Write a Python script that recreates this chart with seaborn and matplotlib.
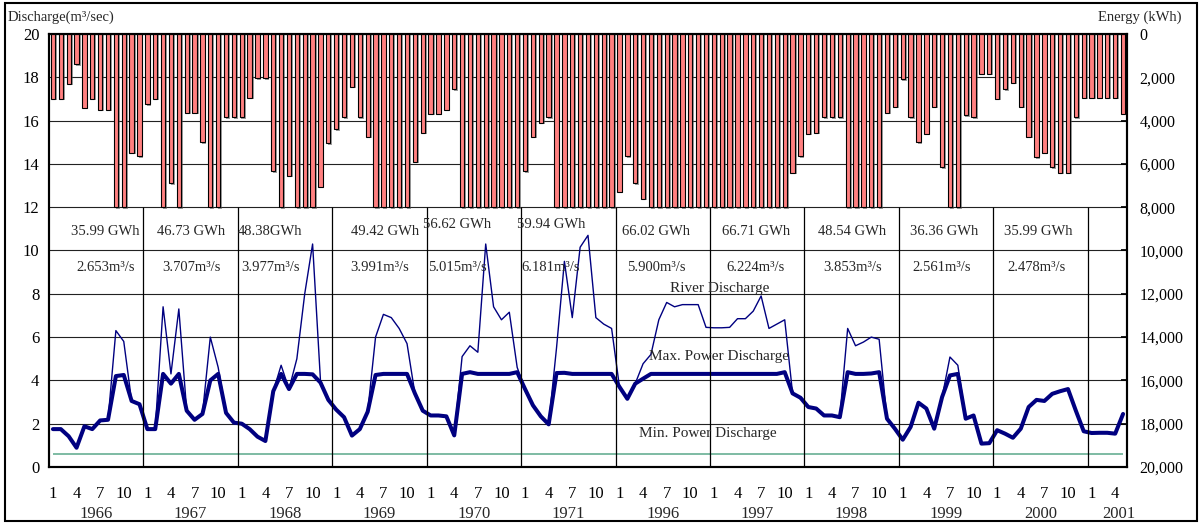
import numpy as np
import matplotlib
matplotlib.use("Agg")
import matplotlib.pyplot as plt
import matplotlib.patheffects as pe
import matplotlib.transforms as mtransforms
from matplotlib.patches import Rectangle
from matplotlib.ticker import FuncFormatter
import seaborn as sns

# years shown on the axis and how many months of each are plotted
years = ["1966", "1967", "1968", "1969", "1970", "1971",
         "1996", "1997", "1998", "1999", "2000", "2001"]
months_per_year = [12, 12, 12, 12, 12, 12, 12, 12, 12, 12, 12, 5]

# monthly energy (kWh), hanging bars on the right axis
energy = [
    3000, 3000, 2300, 1400, 3400, 3000, 3500, 3500, 8000, 8000, 5500, 5650,   # 1966
    3250, 3000, 8000, 6900, 8000, 3650, 3650, 5000, 8000, 8000, 3850, 3850,   # 1967
    3850, 2950, 2050, 2050, 6350, 8000, 6550, 8000, 8000, 8000, 7050, 5050,   # 1968
    4400, 3850, 2450, 3850, 4750, 8000, 8000, 8000, 8000, 8000, 5900, 4550,   # 1969
    3700, 3700, 3500, 2550, 8000, 8000, 8000, 8000, 8000, 8000, 8000, 8000,   # 1970
    6350, 4750, 4100, 3850, 8000, 8000, 8000, 8000, 8000, 8000, 8000, 8000,   # 1971
    7300, 5650, 6900, 7600, 8000, 8000, 8000, 8000, 8000, 8000, 8000, 8000,   # 1996
    8000, 8000, 8000, 8000, 8000, 8000, 8000, 8000, 8000, 8000, 6400, 5650,   # 1997
    4600, 4550, 3850, 3850, 3850, 8000, 8000, 8000, 8000, 8000, 3650, 3350,   # 1998
    2100, 3850, 5000, 4600, 3350, 6150, 8000, 8000, 3750, 3850, 1850, 1850,   # 1999
    3000, 2550, 2250, 3350, 4750, 5700, 5500, 6150, 6400, 6400, 3850, 2950,   # 2000
    2950, 2950, 2950, 2950, 3700,                                             # 2001
]

# river discharge (m3/s)
river = [
    1.75, 1.75, 1.42, 0.89, 1.88, 1.75, 2.15, 2.18, 6.3, 5.8, 3.05, 2.9,
    1.75, 1.75, 7.4, 4.3, 7.3, 2.6, 2.18, 2.45, 6.0, 4.6, 2.5, 2.05,
    2.0, 1.75, 1.4, 1.2, 3.5, 4.7, 3.6, 5.0, 8.0, 10.3, 4.0, 3.1,
    2.65, 2.3, 1.45, 1.75, 2.55, 6.0, 7.05, 6.9, 6.4, 5.7, 3.4, 2.6,
    2.38, 2.38, 2.34, 1.46, 5.1, 5.6, 5.3, 10.3, 7.4, 6.8, 7.15, 4.6,
    3.6, 2.85, 2.34, 1.97, 5.5, 9.5, 6.9, 10.15, 10.7, 6.9, 6.6, 6.4,
    3.7, 3.15, 3.85, 4.77, 5.2, 6.8, 7.6, 7.4, 7.5, 7.5, 7.5, 6.45,
    6.43, 6.43, 6.45, 6.85, 6.85, 7.2, 7.9, 6.4, 6.6, 6.8, 3.4, 3.2,
    2.77, 2.7, 2.38, 2.38, 2.3, 6.4, 5.6, 5.77, 6.0, 5.9, 2.23, 1.77,
    1.26, 1.85, 2.97, 2.7, 1.77, 3.23, 5.08, 4.7, 2.23, 2.38, 1.08, 1.1,
    1.7, 1.54, 1.35, 1.77, 2.77, 3.1, 3.05, 3.38, 3.5, 3.6, 2.6, 1.65,
    1.57, 1.58, 1.58, 1.54, 2.45,
]

# discharge used for power (m3/s)
power = [
    1.75, 1.75, 1.42, 0.89, 1.88, 1.75, 2.15, 2.18, 4.2, 4.25, 3.05, 2.9,
    1.75, 1.75, 4.3, 3.85, 4.3, 2.6, 2.18, 2.45, 4.0, 4.3, 2.5, 2.05,
    2.0, 1.75, 1.4, 1.2, 3.5, 4.3, 3.6, 4.3, 4.3, 4.28, 3.9, 3.1,
    2.65, 2.3, 1.45, 1.75, 2.55, 4.25, 4.3, 4.3, 4.3, 4.3, 3.4, 2.6,
    2.38, 2.38, 2.34, 1.46, 4.3, 4.38, 4.3, 4.3, 4.3, 4.3, 4.3, 4.38,
    3.6, 2.85, 2.34, 1.97, 4.34, 4.35, 4.3, 4.3, 4.3, 4.3, 4.3, 4.3,
    3.7, 3.15, 3.85, 4.08, 4.3, 4.3, 4.3, 4.3, 4.3, 4.3, 4.3, 4.3,
    4.3, 4.3, 4.3, 4.3, 4.3, 4.3, 4.3, 4.3, 4.3, 4.38, 3.4, 3.2,
    2.77, 2.7, 2.38, 2.38, 2.3, 4.38, 4.3, 4.3, 4.32, 4.38, 2.23, 1.77,
    1.26, 1.85, 2.97, 2.7, 1.77, 3.23, 4.23, 4.3, 2.23, 2.38, 1.08, 1.1,
    1.7, 1.54, 1.35, 1.77, 2.77, 3.1, 3.05, 3.38, 3.5, 3.6, 2.6, 1.65,
    1.57, 1.58, 1.58, 1.54, 2.45,
]

min_power = 0.6

# annual totals written in the boxes
gwh_labels = ["35.99 GWh", "46.73 GWh", "48.38GWh", "49.42 GWh", "56.62 GWh", "59.94 GWh",
              "66.02 GWh", "66.71 GWh", "48.54 GWh", "36.36 GWh", "35.99 GWh"]
flow_labels = ["2.653m³/s", "3.707m³/s", "3.977m³/s", "3.991m³/s", "5.015m³/s", "6.181m³/s",
               "5.900m³/s", "6.224m³/s", "3.853m³/s", "2.561m³/s", "2.478m³/s"]
gwh_x = [6.6, 17.5, 27.6, 42.2, 51.3, 63.3, 76.7, 89.4, 101.6, 113.2, 125.2]
gwh_y = [10.86, 10.86, 10.86, 10.86, 11.18, 11.18, 10.86, 10.86, 10.86, 10.86, 10.86]
flow_x = [6.7, 17.6, 27.7, 41.5, 51.4, 63.3, 76.7, 89.3, 101.6, 113.0, 125.0]

sns.set_theme(style="white")
plt.rcParams["font.family"] = ["Liberation Serif", "DejaVu Serif"]

fig = plt.figure(figsize=(12.01, 5.24), dpi=100)
ax = fig.add_axes([49 / 1201, 1 - 467 / 524, 1078 / 1201, 433 / 524])
ax2 = ax.twinx()

x = np.arange(len(river))

# energy bars, hanging from the top of the inverted right axis
sns.barplot(x=x, y=energy, native_scale=True, width=0.55, color="#ff8080",
            saturation=1, edgecolor="black", linewidth=0.8, ax=ax2)
for p in ax2.patches:
    p.set_path_effects([pe.SimplePatchShadow(offset=(1.3, -1.0), shadow_rgbFace="0.3", alpha=0.55),
                        pe.Normal()])
ax2.set_ylim(20000, 0)
ax2.set_yticks(range(0, 20001, 2000))
ax2.yaxis.set_major_formatter(FuncFormatter(lambda v, _: f"{int(v):,}"))
ax2.tick_params(axis="y", direction="in", length=4, pad=9, labelsize=11.5, colors="black")
ax2.set_ylabel("")
ax2.grid(False)

# discharge lines
sns.lineplot(x=x, y=river, ax=ax, color="#000080", linewidth=1.0)
sns.lineplot(x=x, y=power, ax=ax, color="#000080", linewidth=2.9)
ax.hlines(min_power, x[0], x[-1], color="#5aa88a", linewidth=1.1)

bounds = np.cumsum(months_per_year)
ax.vlines(bounds[:-1] - 0.5, 0, 12, color="black", linewidth=0.9)

ax.set_ylim(0, 20)
ax.set_xlim(-0.5, len(river) - 0.5)
ax.set_yticks(range(0, 21, 2))
ax.grid(axis="y", color="#222222", linewidth=0.8)
ax.grid(axis="x", visible=False)
ax.tick_params(axis="y", length=0, pad=7, labelsize=12, colors="black")

# month ticks 1,4,7,10 in each year, years underneath
starts = np.concatenate([[0], bounds[:-1]])
tick_pos, tick_lab = [], []
for s, n in zip(starts, months_per_year):
    for m in (1, 4, 7, 10):
        if m <= n:
            tick_pos.append(s + m - 1)
            tick_lab.append(str(m))
ax.set_xticks(tick_pos)
ax.set_xticklabels(tick_lab)
ax.tick_params(axis="x", length=0, pad=14, labelsize=12, colors="black")
ax.set_xlabel("")
ax.set_ylabel("")

trans = mtransforms.blended_transform_factory(ax.transData, ax.transAxes)
for s, n, yr in zip(starts, months_per_year, years):
    cx = s + (n - 1) / 2 if n == 12 else s + 3.5
    ax.text(cx, -0.108, yr, transform=trans, ha="center", va="center", fontsize=12)

for sp in ["left", "right", "top", "bottom"]:
    ax.spines[sp].set_color("black")
    ax.spines[sp].set_linewidth(1.5)
    ax2.spines[sp].set_color("black")
    ax2.spines[sp].set_linewidth(1.5)

for lab, gx, gy in zip(gwh_labels, gwh_x, gwh_y):
    ax.text(gx, gy, lab, ha="center", va="center", fontsize=10.5)
for lab, fx in zip(flow_labels, flow_x):
    ax.text(fx, 9.2, lab, ha="center", va="center", fontsize=10.5)

ax.text(84.7, 8.25, "River Discharge", ha="center", va="center", fontsize=11)
ax.text(84.7, 5.1, "Max. Power Discharge", ha="center", va="center", fontsize=11)
ax.text(83.2, 1.56, "Min. Power Discharge", ha="center", va="center", fontsize=11)

fig.text(8 / 1201, 1 - 17 / 524, "Discharge(m³/sec)", ha="left", va="center", fontsize=10.5)
fig.text(1182 / 1201, 1 - 17 / 524, "Energy (kWh)", ha="right", va="center", fontsize=10.5)

fig.patches.append(Rectangle((5 / 1201, 3 / 524), 1192 / 1201, 518 / 524, transform=fig.transFigure,
                             fill=False, edgecolor="black", linewidth=1.5))

fig.savefig("out.png", dpi=100)
